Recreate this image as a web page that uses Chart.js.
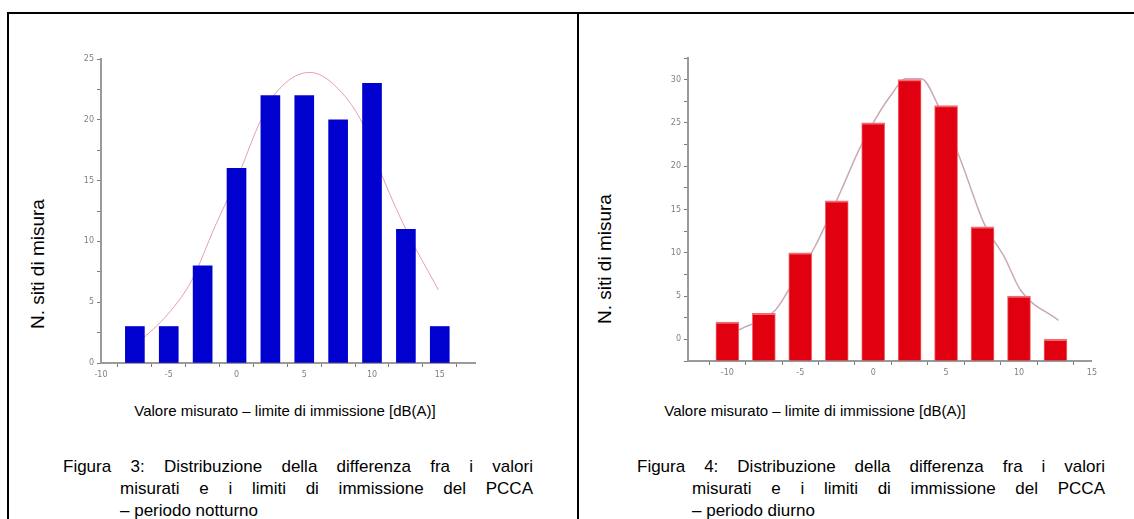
<!DOCTYPE html>
<html>
<head>
<meta charset="utf-8">
<script src="https://cdn.jsdelivr.net/npm/chart.js@4/dist/chart.umd.min.js"></script>
<style>
  body { margin:0; width:1134px; height:519px; background:#fff; position:relative; overflow:hidden;
         font-family:"Liberation Sans", Arial, sans-serif; color:#000; }
  .ln { position:absolute; background:#000; }
  .cv { position:absolute; }
  .ytitle { position:absolute; font-size:19px; white-space:nowrap; transform:translate(-50%,-50%) rotate(-90deg); }
  .xtitle { position:absolute; font-size:15px; white-space:nowrap; transform:translate(-50%,-50%); }
  .cap { position:absolute; font-size:17px; white-space:nowrap; line-height:22px; }
  .just { text-align:justify; text-align-last:justify; white-space:normal; }
</style>
</head>
<body>

<!-- frame -->
<div class="ln" style="left:7px;top:12px;width:1127px;height:2px"></div>
<div class="ln" style="left:7px;top:12px;width:2px;height:507px"></div>
<div class="ln" style="left:577px;top:12px;width:2px;height:507px"></div>

<div class="cv" style="left:60px;top:50px;width:420px;height:333px"><canvas id="c3"></canvas></div>
<div class="cv" style="left:640px;top:48px;width:460px;height:335px"><canvas id="c4"></canvas></div>

<div class="ytitle" style="left:38px;top:264px">N. siti di misura</div>
<div class="ytitle" style="left:605px;top:259px">N. siti di misura</div>

<div class="xtitle" style="left:285px;top:410px">Valore misurato – limite di immissione [dB(A)]</div>
<div class="xtitle" style="left:815px;top:410px">Valore misurato – limite di immissione [dB(A)]</div>

<div class="cap just" style="left:63px;top:456px;width:470px">Figura 3: Distribuzione della differenza fra i valori</div>
<div class="cap just" style="left:120px;top:478px;width:413px">misurati e i limiti di immissione del PCCA</div>
<div class="cap" style="left:120px;top:500px">– periodo notturno</div>

<div class="cap just" style="left:637px;top:456px;width:468px">Figura 4: Distribuzione della differenza fra i valori</div>
<div class="cap just" style="left:692px;top:478px;width:413px">misurati e i limiti di immissione del PCCA</div>
<div class="cap" style="left:692px;top:500px">– periodo diurno</div>

<script>
// Figura 3 - periodo notturno
var bins3 = [-7.5, -5, -2.5, 0, 2.5, 5, 7.5, 10, 12.5, 15];
var counts3 = [3, 3, 8, 16, 22, 22, 20, 23, 11, 3];
var curveX3 = [-7.2, -5, -3.3, -1.6, 0.2, 1.6, 2.9, 5.4, 7.8, 9.6, 10.5, 12.5, 14.9];
var curveY3 = [1.7, 4.1, 6.8, 11.2, 15.6, 19.5, 22.2, 23.9, 22.2, 19.0, 16.1, 11.0, 6.0];
var xLabels3 = [-10, -5, 0, 5, 10, 15];
var yLabels3 = [0, 5, 10, 15, 20, 25];

// Figura 4 - periodo diurno
var bins4 = [-10, -7.5, -5, -2.5, 0, 2.5, 5, 7.5, 10, 12.5];
var counts4 = [2, 3, 10, 16, 25, 30, 27, 13, 5, 0];
var curveX4 = [-9.2, -6.7, -5.8, -4.0, -2.2, -1.0, 0.1, 1.3, 2.2, 3.3, 4.4, 6.0, 7.6, 9.0, 10.1, 12.7];
var curveY4 = [1.1, 3.4, 5.7, 10.7, 17.2, 21.8, 25.3, 28.4, 30.1, 30.1, 27.2, 20.7, 13.4, 9.5, 5.7, 2.2];
var xLabels4 = [-10, -5, 0, 5, 10, 15];
var yLabels4 = [0, 5, 10, 15, 20, 25, 30];

function pts(xs, ys) {
  return xs.map(function (x, i) { return { x: x, y: ys[i] }; });
}

// major labelled ticks plus a minor tick half way between
function withMinor(labels, lo, hi) {
  var step = (labels[1] - labels[0]) / 2;
  var out = [];
  for (var v = labels[0] - step * 4; v <= hi + 1e-6; v += step) {
    if (v >= lo - 1e-6) out.push({ value: v });
  }
  return out;
}

function axis(labels, lo, hi, w, h) {
  return {
    type: 'linear',
    min: lo, max: hi,
    offset: false,
    border: { color: '#9a9a9a', width: 2 },
    grid: { drawOnChartArea: false, drawTicks: true, tickLength: 4, color: '#7a7a7a', tickWidth: 1 },
    ticks: {
      color: '#808080',
      font: { family: 'DejaVu Sans', size: 8 },
      padding: 3,
      autoSkip: false,
      maxRotation: 0,
      callback: function (v) { return labels.indexOf(v) >= 0 ? String(v) : ''; }
    },
    afterBuildTicks: function (s) { s.ticks = withMinor(labels, lo, hi); },
    afterFit: function (s) { if (w) s.width = w; if (h) s.height = h; }
  };
}

function makeChart(id, o) {
  return new Chart(document.getElementById(id), {
    type: 'bar',
    data: {
      datasets: [
        {
          type: 'bar',
          data: pts(o.bins, o.counts),
          backgroundColor: o.barColor,
          borderColor: o.barBorder,
          borderWidth: o.barBorderWidth,
          barThickness: o.barW,
          base: o.base,
          order: 1
        },
        {
          type: 'line',
          data: pts(o.cx, o.cy),
          borderColor: o.curveColor,
          borderWidth: o.curveW,
          pointRadius: 0,
          tension: 0.4,
          cubicInterpolationMode: 'monotone',
          fill: false,
          order: 2
        }
      ]
    },
    options: {
      responsive: true,
      maintainAspectRatio: false,
      animation: false,
      layout: { padding: o.pad },
      plugins: { legend: { display: false }, tooltip: { enabled: false } },
      scales: {
        x: axis(o.xLabels, o.xMin, o.xMax, null, o.xH),
        y: axis(o.yLabels, o.yMin, o.yMax, o.yW, null)
      }
    }
  });
}

makeChart('c3', {
  bins: bins3, counts: counts3, cx: curveX3, cy: curveY3,
  xLabels: xLabels3, yLabels: yLabels3,
  xMin: -10, xMax: 17.6, yMin: 0, yMax: 25,
  barColor: '#0000cf', barBorder: '#0000cf', barBorderWidth: 0, barW: 19, base: 0,
  curveColor: 'rgba(226,150,160,0.9)', curveW: 1,
  pad: { top: 9, right: 5, left: 0, bottom: 0 }, xH: 20, yW: 41
});

makeChart('c4', {
  bins: bins4, counts: counts4, cx: curveX4, cy: curveY4,
  xLabels: xLabels4, yLabels: yLabels4,
  xMin: -12.7, xMax: 15, yMin: -2.5, yMax: 32.5,
  barColor: '#e0000f', barBorder: '#f06a70', barBorderWidth: { top: 2, left: 1, right: 1, bottom: 0 }, barW: 23, base: -2.5,
  curveColor: 'rgba(195,160,175,0.9)', curveW: 1.5,
  pad: { top: 10, right: 7, left: 0, bottom: 0 }, xH: 22, yW: 48
});
</script>
</body>
</html>
